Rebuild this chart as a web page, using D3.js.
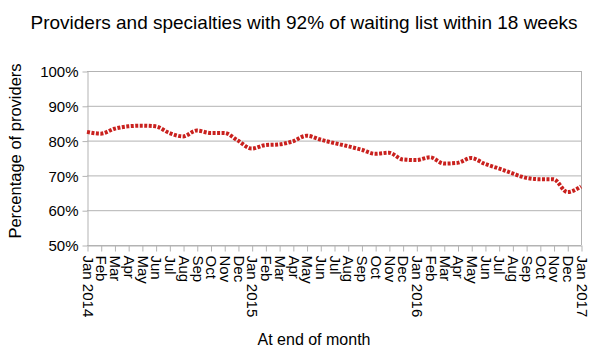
<!DOCTYPE html>
<html><head><meta charset="utf-8">
<script src="https://cdn.jsdelivr.net/npm/d3@7"></script>
<style>body{margin:0;background:#fff}svg{display:block;font-family:"Liberation Sans",Arial,sans-serif}</style>
</head><body><svg id="c" width="590" height="353"></svg>
<script>
const months = ["Jan 2014","Feb","Mar","Apr","May","Jun","Jul","Aug","Sep","Oct","Nov","Dec",
"Jan 2015","Feb","Mar","Apr","May","Jun","Jul","Aug","Sep","Oct","Nov","Dec",
"Jan 2016","Feb","Mar","Apr","May","Jun","Jul","Aug","Sep","Oct","Nov","Dec","Jan 2017"];
const values = [82.5,82.0,83.4,84.1,84.3,84.1,82.2,81.2,82.9,82.2,82.2,80.0,
77.7,78.7,78.9,79.8,81.4,80.3,79.3,78.4,77.4,76.2,76.5,74.6,
74.4,75.2,73.4,73.6,75.0,73.3,72.0,70.6,69.3,68.9,68.9,65.2,66.8];
const yTicks = [50,60,70,80,90,100];

const svg = d3.select("#c");
const m = {l:87, r:581, t:71, b:245};
const x = d3.scalePoint().domain(d3.range(months.length)).range([m.l, m.r]);
const y = d3.scaleLinear().domain([50,100]).range([m.b, m.t]);

svg.append("text").attr("x",304).attr("y",29).attr("text-anchor","middle")
  .attr("font-size",19).text("Providers and specialties with 92% of waiting list within 18 weeks");

// gridlines
svg.append("g").selectAll("line").data(yTicks).join("line")
  .attr("x1",m.l).attr("x2",m.r).attr("y1",d=>y(d)+0.5).attr("y2",d=>y(d)+0.5)
  .attr("stroke","#b3b3b3").attr("stroke-width",1);
svg.append("line").attr("x1",m.r+0.5).attr("x2",m.r+0.5).attr("y1",m.t).attr("y2",m.b)
  .attr("stroke","#b3b3b3");

// y axis
const ya = svg.append("g").attr("transform",`translate(${m.l+0.5},0.5)`)
  .call(d3.axisLeft(y).tickValues(yTicks).tickFormat(d=>d+"%").tickSize(5).tickSizeOuter(0));
ya.select(".domain").attr("stroke","#b3b3b3");
ya.selectAll(".tick line").attr("stroke","#b3b3b3");
ya.selectAll("text").attr("font-size",15).attr("font-family","Liberation Sans, Arial, sans-serif")
  .attr("fill","#000").attr("x",-9).attr("dy","0.35em");

// x axis
const xa = svg.append("g").attr("transform",`translate(0.5,${m.b+0.5})`)
  .call(d3.axisBottom(x).tickFormat(i=>months[i]).tickSize(6).tickSizeOuter(0));
xa.select(".domain").attr("stroke","#b3b3b3");
xa.selectAll(".tick line").attr("stroke","#b3b3b3");
xa.selectAll("text").attr("font-size",15).attr("font-family","Liberation Sans, Arial, sans-serif")
  .attr("fill","#000").attr("text-anchor","start")
  .attr("transform","rotate(90)").attr("x",10).attr("y",0).attr("dy","0.35em");

// line
svg.append("path").datum(values)
  .attr("fill","none").attr("stroke","#c9211e").attr("stroke-width",4)
  .attr("stroke-dasharray","3,1.5")
  .attr("d", d3.line().x((d,i)=>x(i)).y(d=>y(d)).curve(d3.curveMonotoneX));

// axis titles
svg.append("text").attr("transform","translate(21,151) rotate(-90)").attr("text-anchor","middle")
  .attr("font-size",16.5).text("Percentage of providers");
svg.append("text").attr("x",314).attr("y",345).attr("text-anchor","middle")
  .attr("font-size",16).text("At end of month");
</script></body></html>
